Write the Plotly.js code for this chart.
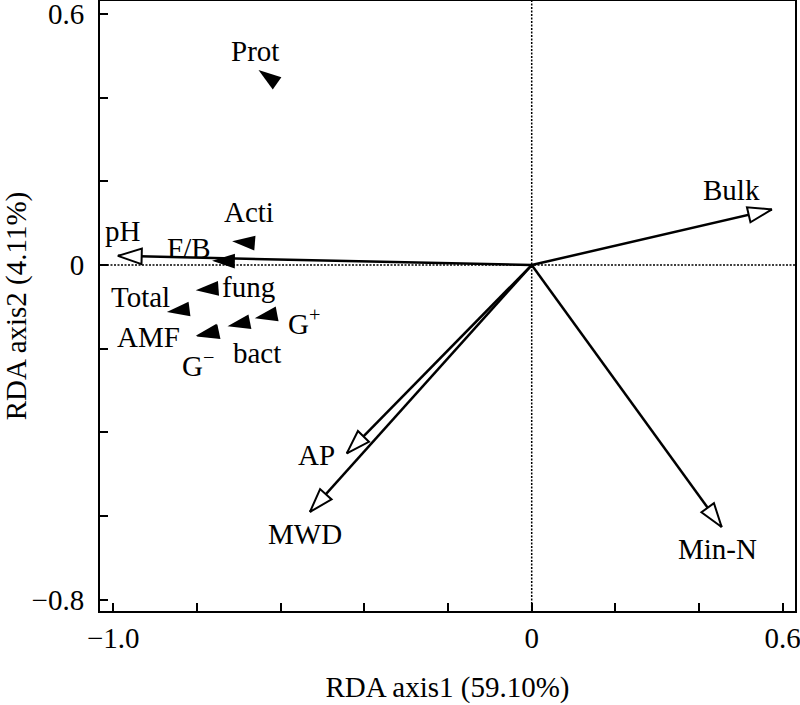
<!DOCTYPE html>
<html>
<head>
<meta charset="utf-8">
<script src="https://cdn.plot.ly/plotly-3.0.1.min.js"></script>
<style>html,body{margin:0;padding:0;background:#fff;}#chart{width:800px;height:705px;}</style>
</head>
<body>
<div id="chart"></div>
<script>
// ---- data: environmental variable arrows (RDA scores) ----
const envNames = ['pH', 'Bulk', 'AP', 'MWD', 'Min-N'];
const envAxis1 = [-0.989, 0.574, -0.442, -0.530, 0.454];
const envAxis2 = [0.022, 0.133, -0.450, -0.590, -0.626];

// ---- data: soil microbial groups (species scores) ----
const spNames = ['Prot', 'Acti', 'F/B', 'fung', 'Total', 'G<sup>+</sup>', 'bact', 'AMF', 'G<sup>\u2212</sup>'];
const spAxis1 = [-0.653, -0.716, -0.764, -0.803, -0.872, -0.662, -0.727, -0.803, -0.801];
const spAxis2 = [0.466, 0.057, 0.010, -0.060, -0.112, -0.127, -0.146, -0.169, -0.171];

// ---- tick labels ----
const xTickVals = [-1.0, -0.8, -0.6, -0.4, -0.2, 0, 0.2, 0.4, 0.6];
const xTickText = ['\u22121.0', '', '', '', '', '0', '', '', '0.6'];
const yTickVals = [0.6, 0.4, 0.2, 0, -0.2, -0.4, -0.6, -0.8];
const yTickText = ['0.6', '', '', '0', '', '', '', '\u22120.8'];

// ---- style: label offsets in pixels (dx right, dy up) ----
const envLabelShift = [[5, 25], [-40, 19], [-30, -2], [-5, -22], [-4, -22]];
const spLabelShift = [[-3, 19], [17, 29], [-23, 13], [53, 3], [-26, 15], [49, -4], [29, -27], [-47, -1], [1, -27]];

const FONT = '"Liberation Serif", "Times New Roman", Times, serif';
const FS = 29;

function bearing(x, y) { return Math.atan2(x, y) * 180 / Math.PI; }

// shafts
const shaftX = [], shaftY = [];
envAxis1.forEach((v, i) => { shaftX.push(0, v, null); shaftY.push(0, envAxis2[i], null); });

const traces = [
  {
    type: 'scatter', mode: 'lines', x: shaftX, y: shaftY,
    line: {color: '#000', width: 2.5}, hoverinfo: 'skip', showlegend: false
  },
  {
    type: 'scatter', mode: 'markers', x: envAxis1, y: envAxis2, text: envNames,
    marker: {
      symbol: 'arrow', size: 25, color: '#fff',
      angle: envAxis1.map((v, i) => bearing(v, envAxis2[i])),
      line: {color: '#000', width: 2}
    },
    showlegend: false
  },
  {
    type: 'scatter', mode: 'markers', x: spAxis1, y: spAxis2, text: spNames,
    marker: {
      symbol: 'arrow', size: 24, color: '#000',
      angle: spAxis1.map((v, i) => bearing(v, spAxis2[i])),
      line: {width: 0}
    },
    showlegend: false
  }
];

const annotations = [];
envNames.forEach((n, i) => annotations.push({
  x: envAxis1[i], y: envAxis2[i], xref: 'x', yref: 'y', text: n, showarrow: false,
  xanchor: 'center', yanchor: 'middle', xshift: envLabelShift[i][0], yshift: envLabelShift[i][1],
  font: {family: FONT, size: FS, color: '#000'}
}));
spNames.forEach((n, i) => annotations.push({
  x: spAxis1[i], y: spAxis2[i], xref: 'x', yref: 'y', text: n, showarrow: false,
  xanchor: 'center', yanchor: 'middle', xshift: spLabelShift[i][0], yshift: spLabelShift[i][1],
  font: {family: FONT, size: FS, color: '#000'}
}));

const layout = {
  width: 800, height: 705,
  margin: {l: 100, r: 5, t: 1, b: 94},
  paper_bgcolor: '#fff', plot_bgcolor: '#fff',
  font: {family: FONT, size: FS, color: '#000'},
  showlegend: false,
  xaxis: {
    range: [-1.0318, 0.6293], tickvals: xTickVals, ticktext: xTickText,
    ticks: 'inside', ticklen: 8, tickwidth: 2, tickcolor: '#000',
    showline: true, linecolor: '#000', linewidth: 2, mirror: true,
    showgrid: false, zeroline: false, ticklabeloverflow: 'allow',
    tickfont: {family: FONT, size: FS, color: '#000'},
    title: {text: 'RDA axis1 (59.10%)', font: {family: FONT, size: FS, color: '#000'}, standoff: 24}
  },
  yaxis: {
    range: [-0.8268, 0.6311], tickvals: yTickVals, ticktext: yTickText,
    ticks: 'inside', ticklen: 8, tickwidth: 2, tickcolor: '#000',
    showline: true, linecolor: '#000', linewidth: 2, mirror: true,
    showgrid: false, zeroline: false, ticklabeloverflow: 'allow', ticklabelstandoff: 8,
    tickfont: {family: FONT, size: FS, color: '#000'},
    title: {text: 'RDA axis2 (4.11%)', font: {family: FONT, size: FS, color: '#000'}, standoff: 12}
  },
  shapes: [
    {type: 'line', xref: 'x', yref: 'paper', x0: 0, x1: 0, y0: 0, y1: 1, layer: 'below',
     line: {color: '#000', width: 1.5, dash: '2px,1.5px'}},
    {type: 'line', xref: 'paper', yref: 'y', x0: 0, x1: 1, y0: 0, y1: 0, layer: 'below',
     line: {color: '#000', width: 1.5, dash: '2px,1.5px'}}
  ],
  annotations: annotations
};

Plotly.newPlot('chart', traces, layout, {displayModeBar: false, staticPlot: true});
</script>
</body>
</html>
